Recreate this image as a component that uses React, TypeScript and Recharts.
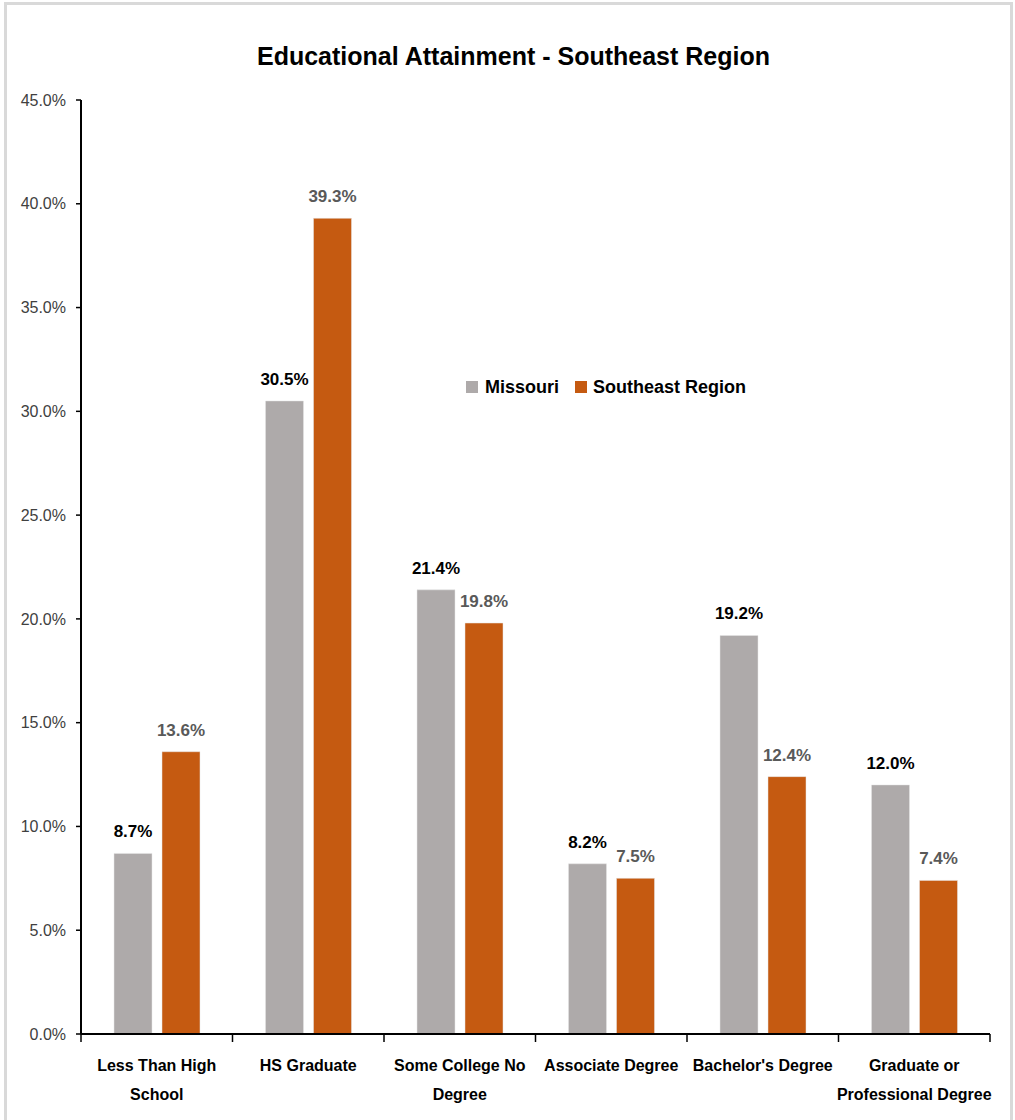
import { BarChart, Bar, XAxis, YAxis, LabelList } from 'recharts';

const categories = [
  'Less Than High\nSchool',
  'HS Graduate',
  'Some College No\nDegree',
  'Associate Degree',
  "Bachelor's Degree",
  'Graduate or\nProfessional Degree',
];
const missouri = [8.7, 30.5, 21.4, 8.2, 19.2, 12.0];
const southeast = [13.6, 39.3, 19.8, 7.5, 12.4, 7.4];
const yTicks = [0, 5, 10, 15, 20, 25, 30, 35, 40, 45];

const data = categories.map((name, i) => ({
  name,
  missouri: missouri[i],
  southeast: southeast[i],
}));

const FONT = '"Liberation Sans Narrow", "Liberation Sans", Arial, sans-serif';
const WIDTH = 1015;
const HEIGHT = 1120;
const Y_AXIS_W = 60;
const X_AXIS_H = 70;
const MARGIN = { top: 100, right: 25, bottom: 16, left: 21 };
const PLOT_W = WIDTH - MARGIN.left - MARGIN.right - Y_AXIS_W;

const GRAY = '#AEAAAA';
const ORANGE = '#C55A11';

const pct = (v: any) => `${Number(v).toFixed(1)}%`;

// Excel-style category axis: tick marks sit between categories
function CategoryTick(props: any) {
  const { x, y, payload, index } = props;
  const band = PLOT_W / categories.length;
  const lines = String(payload.value).split('\n');
  return (
    <g>
      <line x1={x - band / 2} x2={x - band / 2} y1={y} y2={y + 8} stroke="#000" strokeWidth={1.5} />
      {index === categories.length - 1 && (
        <line x1={x + band / 2} x2={x + band / 2} y1={y} y2={y + 8} stroke="#000" strokeWidth={1.5} />
      )}
      <text x={x} y={y + 37} textAnchor="middle" fontFamily={FONT} fontSize={16} fontWeight="bold" fill="#000">
        {lines.map((l, i) => (
          <tspan key={i} x={x} dy={i === 0 ? 0 : 29}>
            {l}
          </tspan>
        ))}
      </text>
    </g>
  );
}

export default function App() {
  return (
    <div style={{ position: 'absolute', left: 0, top: 0, width: WIDTH, height: HEIGHT, background: '#fff' }}>
      <div
        style={{
          position: 'absolute',
          left: 4,
          top: 2,
          width: 1009,
          height: 1118,
          boxSizing: 'border-box',
          border: '3px solid #d9d9d9',
          borderBottom: 'none',
        }}
      />
      <div
        style={{
          position: 'absolute',
          top: 44,
          left: 0,
          width: 1027,
          textAlign: 'center',
          fontFamily: FONT,
          fontWeight: 'bold',
          fontSize: 25,
          lineHeight: '25px',
          color: '#000',
        }}
      >
        Educational Attainment - Southeast Region
      </div>
      <div
        style={{
          position: 'absolute',
          top: 378,
          left: 466,
          display: 'flex',
          alignItems: 'center',
          fontFamily: FONT,
          fontSize: 18,
          fontWeight: 'bold',
          lineHeight: '18px',
          color: '#000',
        }}
      >
        <span style={{ width: 12, height: 12, background: GRAY, marginRight: 7 }} />
        <span style={{ marginRight: 16 }}>Missouri</span>
        <span style={{ width: 12, height: 12, background: ORANGE, marginRight: 6 }} />
        <span>Southeast Region</span>
      </div>
      <BarChart
        width={WIDTH}
        height={HEIGHT}
        data={data}
        margin={MARGIN}
        barSize={38}
        barGap={10}
        style={{ position: 'absolute', left: 0, top: 0 }}
      >
        <XAxis
          dataKey="name"
          height={X_AXIS_H}
          tickLine={false}
          tickSize={0}
          tickMargin={0}
          axisLine={{ stroke: '#000', strokeWidth: 2 }}
          tick={<CategoryTick />}
          interval={0}
        />
        <YAxis
          width={Y_AXIS_W}
          domain={[0, 45]}
          ticks={yTicks}
          tickFormatter={pct}
          tickSize={5}
          tickMargin={10}
          axisLine={{ stroke: '#000', strokeWidth: 2 }}
          tickLine={{ stroke: '#000', strokeWidth: 1.5 }}
          tick={{ fontFamily: FONT, fontSize: 16, fill: '#404040' }}
        />
        <Bar dataKey="missouri" fill={GRAY} stroke="#e6e6e6" strokeWidth={0.5} isAnimationActive={false}>
          <LabelList
            dataKey="missouri"
            position="top"
            offset={16}
            formatter={pct}
            style={{ fontFamily: FONT, fontSize: 17, fontWeight: 'bold', fill: '#000' }}
          />
        </Bar>
        <Bar dataKey="southeast" fill={ORANGE} stroke="#e6e6e6" strokeWidth={0.5} isAnimationActive={false}>
          <LabelList
            dataKey="southeast"
            position="top"
            offset={16}
            formatter={pct}
            style={{ fontFamily: FONT, fontSize: 17, fontWeight: 'bold', fill: '#595959' }}
          />
        </Bar>
      </BarChart>
    </div>
  );
}
